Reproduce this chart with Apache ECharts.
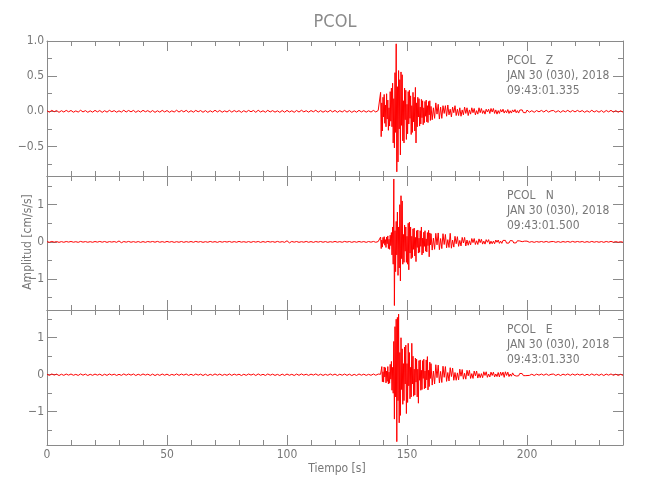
<!DOCTYPE html>
<html>
<head>
<meta charset="utf-8">
<script src="https://cdn.jsdelivr.net/npm/echarts/dist/echarts.min.js"></script>
<style>html,body{margin:0;padding:0;background:#fff}#chart{width:650px;height:500px}</style>
</head>
<body>
<div id="chart"></div>
<script>
// ---------------- DATA ----------------
const stationName = 'PCOL';
const componentNames = ['Z', 'N', 'E'];
const dateText = 'JAN 30 (030), 2018';
const startTimes = ['09:43:01.335', '09:43:01.500', '09:43:01.330'];
const xTitle = 'Tiempo [s]';
const yTitle = 'Amplitud [cm/s/s]';

// sample segments: start time [s] and step [s]
const segStart = [0, 138.5, 160.5, 201];
const segStep = [1, 0.25, 0.5, 1];

// x tick values
const xMajorTicks = [0, 50, 100, 150, 200];
const xMinorTicks = [10, 20, 30, 40, 60, 70, 80, 90, 110, 120, 130, 140, 160, 170, 180, 190, 210, 220, 230];

// y ranges and ticks per panel
const yRanges = [[-0.92, 1.0], [-1.83, 1.77], [-1.9, 1.75]];
const yMajorTicks = [[-0.5, 0, 0.5, 1.0], [-1, 0, 1], [-1, 0, 1]];
const yMinorTicks = [[-0.75, -0.25, 0.25, 0.75], [-1.5, -0.5, 0.5, 1.5], [-1.5, -0.5, 0.5, 1.5]];

// ---- Z component ----
const zNoise = [
  0.008,-0.012,0.014,-0.006,0.011,-0.015,0.009,-0.010,0.013,-0.007,
  0.012,-0.013,0.006,-0.011,0.015,-0.009,0.010,-0.014,0.007,-0.012,
  0.013,-0.008,0.011,-0.015,0.009,-0.012,0.014,-0.006,0.010,-0.013,
  0.007,-0.011,0.015,-0.010,0.012,-0.008,0.013,-0.014,0.009,-0.011,
  0.014,-0.007,0.010,-0.013,0.011,-0.015,0.008,-0.012,0.013,-0.009,
  0.011,-0.014,0.007,-0.010,0.015,-0.011,0.012,-0.008,0.014,-0.013,
  0.009,-0.012,0.013,-0.007,0.011,-0.014,0.010,-0.015,0.008,-0.011,
  0.015,-0.009,0.012,-0.013,0.007,-0.010,0.014,-0.012,0.011,-0.008,
  0.010,-0.015,0.009,-0.011,0.013,-0.007,0.012,-0.014,0.015,-0.010,
  0.008,-0.013,0.014,-0.009,0.010,-0.012,0.007,-0.015,0.011,-0.013,
  0.013,-0.010,0.008,-0.014,0.012,-0.011,0.015,-0.008,0.009,-0.012,
  0.011,-0.007,0.015,-0.012,0.010,-0.013,0.008,-0.011,0.014,-0.009,
  0.012,-0.014,0.009,-0.010,0.013,-0.012,0.011,-0.015,0.007,-0.013,
  0.014,-0.009,0.010,-0.012,0.008,-0.011,0.013,-0.010,0.012
];
const zActive = [
  0.010,-0.012,0.27,-0.36,0.12,-0.28,0.20,-0.08,0.24,-0.17,
  0.09,-0.22,0.25,-0.11,0.16,-0.27,0.05,-0.21,0.28,-0.14,
  0.33,-0.22,0.40,-0.45,0.18,-0.52,0.55,-0.30,0.96,-0.86,
  0.35,-0.72,0.58,-0.25,0.45,-0.62,0.56,-0.20,0.52,-0.42,
  0.15,-0.45,0.33,-0.12,0.30,-0.40,0.10,-0.32,0.28,-0.18,
  0.30,-0.10,0.22,-0.33,0.08,-0.30,0.27,-0.15,0.20,-0.28,
  0.34,-0.45,0.12,-0.22,0.20,-0.08,0.18,-0.21,0.06,-0.18,
  0.17,-0.09,0.15,-0.19,0.05,-0.16,0.14,-0.07,0.16,-0.15,
  0.08,-0.16,0.14,-0.05,0.15,-0.13,0.07
];
const zDecay = [
  -0.12,0.05,-0.10,0.12,-0.04,0.10,-0.11,0.06,-0.10,0.08,
  -0.03,0.08,-0.07,0.09,-0.05,0.03,-0.08,0.06,-0.02,0.08,
  -0.06,0.03,-0.06,0.05,-0.07,0.02,-0.05,0.06,-0.03,0.05,
  -0.06,0.02,-0.04,0.05,-0.02,0.04,-0.05,0.01,-0.04,0.05,
  -0.02,0.04,-0.03,0.01,-0.04,0.03,-0.01,0.03,-0.03,0.04,
  -0.01,0.04,-0.03,0.02,-0.04,0.01,-0.03,0.025,-0.01,0.03,
  -0.025,0.01,-0.02,0.025,-0.03,0.008,-0.025,0.02,-0.01,0.025,
  -0.02,0.01,-0.025,0.018,-0.006,0.02,-0.018,0.008,-0.02,0.018
];
const zTail = [
  -0.012,0.009,-0.014,0.011,-0.008,0.013,-0.010,0.015,-0.011,0.007,
  0.012,-0.013,0.009,-0.015,0.010,-0.008,0.014,-0.011,0.012,-0.009,
  0.013,-0.007,0.011,-0.014,0.008,-0.012,0.015,-0.010,0.009,-0.013,
  0.011,-0.015,0.012,-0.008,0.014,-0.011,0.010,-0.013,0.007,-0.012
];

// ---- N component ----
const nNoise = [
  0.006,-0.010,0.012,-0.008,0.009,-0.013,0.007,-0.011,0.010,-0.006,
  0.011,-0.009,0.005,-0.012,0.013,-0.007,0.008,-0.010,0.006,-0.011,
  0.010,-0.007,0.012,-0.009,0.011,-0.013,0.008,-0.006,0.009,-0.012,
  0.025,-0.022,0.010,-0.008,0.012,-0.010,0.007,-0.011,0.009,-0.013,
  0.008,-0.012,0.010,-0.006,0.011,-0.009,0.013,-0.010,0.007,-0.011,
  0.012,-0.008,0.009,-0.013,0.006,-0.010,0.011,-0.012,0.008,-0.009,
  0.010,-0.011,0.013,-0.007,0.009,-0.012,0.006,-0.010,0.012,-0.008,
  0.007,-0.013,0.011,-0.009,0.010,-0.006,0.012,-0.011,0.008,-0.010,
  0.013,-0.008,0.006,-0.011,0.009,-0.012,0.010,-0.007,0.011,-0.013,
  0.009,-0.010,0.012,-0.006,0.008,-0.011,0.013,-0.009,0.007,-0.012,
  0.030,-0.026,0.011,-0.008,0.010,-0.012,0.006,-0.009,0.012,-0.011,
  0.008,-0.013,0.010,-0.007,0.011,-0.010,0.009,-0.012,0.006,-0.008,
  0.012,-0.009,0.007,-0.011,0.013,-0.006,0.010,-0.012,0.008,-0.010,
  0.011,-0.007,0.009,-0.013,0.010,-0.008,0.012,-0.011,0.009
];
const nActive = [
  0.010,-0.012,0.13,-0.18,0.05,-0.14,0.12,-0.04,0.14,-0.09,
  0.06,-0.15,0.13,-0.05,0.16,-0.18,0.07,-0.20,0.18,-0.10,
  0.25,-0.35,0.40,-0.60,1.69,-1.71,0.30,-0.80,0.55,-0.35,
  0.80,-0.90,0.40,-0.70,1.00,-1.05,1.24,-0.45,1.10,-0.60,
  0.20,-0.55,0.45,-0.25,0.40,-0.55,0.15,-0.60,0.50,-0.75,
  0.53,-0.30,0.40,-0.45,0.15,-0.42,0.35,-0.20,0.37,-0.38,
  0.12,-0.53,0.30,-0.15,0.32,-0.30,0.10,-0.28,0.30,-0.12,
  0.40,-0.35,0.10,-0.30,0.26,-0.12,0.30,-0.25,0.08,-0.27,
  0.25,-0.10,0.31,-0.40,0.24,-0.08,0.22
];
const nDecay = [
  -0.22,0.10,-0.20,0.23,-0.08,0.24,-0.21,0.09,-0.18,0.22,
  -0.07,0.20,-0.16,0.06,-0.15,0.23,-0.17,0.05,-0.14,0.15,
  -0.05,0.14,-0.12,0.04,-0.11,0.12,-0.03,0.12,-0.11,0.05,
  -0.09,0.03,-0.08,0.09,-0.02,0.09,-0.07,0.03,-0.07,0.08,
  -0.02,0.07,-0.06,0.02,-0.06,0.06,-0.01,0.06,-0.06,0.02,
  -0.05,0.02,-0.05,0.05,-0.01,0.05,-0.04,0.02,-0.04,0.04,
  -0.01,0.04,-0.035,0.01,-0.03,0.035,-0.01,0.03,-0.03,0.01,
  -0.025,0.03,-0.008,0.025,-0.02,0.005,-0.02,0.02,-0.005,0.02
];
const nTail = [
  -0.010,0.008,-0.012,0.009,-0.007,0.011,-0.009,0.012,-0.010,0.006,
  0.010,-0.011,0.008,-0.012,0.009,-0.007,0.011,-0.010,0.013,-0.008,
  0.011,-0.006,0.010,-0.012,0.007,-0.011,0.012,-0.009,0.008,-0.010,
  0.009,-0.012,0.011,-0.007,0.013,-0.010,0.008,-0.011,0.006,-0.010
];

// ---- E component ----
const eNoise = [
  0.012,-0.018,0.021,-0.010,0.016,-0.022,0.014,-0.017,0.019,-0.011,
  0.020,-0.015,0.010,-0.019,0.022,-0.013,0.017,-0.021,0.012,-0.016,
  0.018,-0.012,0.016,-0.022,0.014,-0.018,0.021,-0.010,0.015,-0.019,
  0.011,-0.017,0.022,-0.014,0.019,-0.012,0.020,-0.021,0.013,-0.016,
  0.021,-0.011,0.015,-0.020,0.017,-0.022,0.012,-0.018,0.019,-0.014,
  0.016,-0.021,0.010,-0.015,0.022,-0.017,0.018,-0.012,0.020,-0.019,
  0.014,-0.018,0.020,-0.011,0.016,-0.021,0.015,-0.022,0.012,-0.017,
  0.022,-0.013,0.018,-0.019,0.011,-0.016,0.021,-0.018,0.017,-0.012,
  0.015,-0.022,0.013,-0.017,0.020,-0.010,0.018,-0.021,0.022,-0.015,
  0.012,-0.020,0.021,-0.013,0.015,-0.018,0.010,-0.022,0.016,-0.019,
  0.019,-0.015,0.012,-0.021,0.018,-0.016,0.022,-0.012,0.014,-0.018,
  0.017,-0.010,0.022,-0.018,0.015,-0.019,0.012,-0.016,0.021,-0.013,
  0.018,-0.021,0.014,-0.015,0.019,-0.018,0.016,-0.022,0.011,-0.020,
  0.021,-0.013,0.015,-0.018,0.012,-0.016,0.020,-0.015,0.018
];
const eActive = [
  0.015,-0.018,0.012,-0.020,0.22,-0.19,0.08,-0.20,0.21,-0.06,
  0.19,-0.22,0.10,-0.18,0.22,-0.25,0.07,-0.23,0.28,-0.12,
  0.36,-0.42,0.20,-0.50,0.90,-1.20,1.30,-0.60,1.50,-1.81,
  1.55,-0.70,1.64,-1.30,0.60,-1.10,1.00,-0.40,0.70,-0.80,
  0.30,-0.70,0.75,-0.25,0.80,-1.05,0.30,-0.75,0.85,-0.30,
  0.60,-0.65,0.20,-0.60,0.85,-0.25,0.50,-0.58,0.15,-0.55,
  0.45,-0.20,0.42,-0.60,0.15,-0.77,0.38,-0.15,0.40,-0.42,
  0.12,-0.40,0.38,-0.10,0.42,-0.38,0.10,-0.36,0.40,-0.14,
  0.49,-0.41,0.12,-0.32,0.34,-0.10,0.30
];
const eDecay = [
  -0.28,0.10,-0.25,0.27,-0.08,0.26,-0.22,0.09,-0.21,0.23,
  -0.07,0.22,-0.18,0.06,-0.17,0.19,-0.05,0.18,-0.15,0.06,
  -0.15,0.05,-0.14,0.15,-0.04,0.14,-0.12,0.04,-0.12,0.12,
  -0.03,0.12,-0.10,0.03,-0.10,0.10,-0.03,0.10,-0.09,0.03,
  -0.08,0.03,-0.08,0.08,-0.02,0.08,-0.07,0.02,-0.06,0.07,
  -0.02,0.07,-0.06,0.02,-0.05,0.06,-0.06,0.07,-0.02,0.07,
  -0.07,0.08,-0.02,0.07,-0.05,0.02,-0.04,0.05,-0.01,0.04,
  -0.035,0.01,-0.03,0.035,-0.01,0.03,-0.025,0.008,-0.025,0.025
];
const eTail = [
  -0.018,0.014,-0.021,0.016,-0.012,0.019,-0.015,0.022,-0.017,0.011,
  0.018,-0.020,0.013,-0.022,0.016,-0.012,0.021,-0.017,0.019,-0.014,
  0.020,-0.011,0.016,-0.021,0.013,-0.018,0.022,-0.015,0.014,-0.019,
  0.017,-0.022,0.018,-0.012,0.021,-0.016,0.015,-0.020,0.011,-0.018
];

// ---------------- BUILD ----------------
function toPoints(segs) {
  const pts = [];
  segs.forEach((vals, k) => vals.forEach((v, i) => pts.push([segStart[k] + i * segStep[k], v])));
  return pts;
}
const traces = [
  toPoints([zNoise, zActive, zDecay, zTail]),
  toPoints([nNoise, nActive, nDecay, nTail]),
  toPoints([eNoise, eActive, eDecay, eTail])
];

const FONT = '"Liberation Sans Narrow", "DejaVu Sans Condensed", sans-serif';
const AXIS_COLOR = '#8a8a8a';
const TEXT_COLOR = '#777';
const panelTops = [41, 176, 310];
const panelHeights = [135, 134, 135];
const gridLeft = 47, gridWidth = 576;

const grids = [], xAxes = [], yAxes = [], series = [], graphics = [];

function fmtY(p) {
  return function (v) {
    const s = p === 0 ? Math.abs(v).toFixed(1) : String(Math.abs(v));
    return (v < 0 ? '\u2212' : '') + s;
  };
}

for (let p = 0; p < 3; p++) {
  grids.push({ left: gridLeft, top: panelTops[p], width: gridWidth, height: panelHeights[p], containLabel: false });
  const xs = [
    { pos: 'bottom', major: true }, { pos: 'bottom', major: false },
    { pos: 'top', major: true }, { pos: 'top', major: false }
  ];
  xs.forEach(a => {
    xAxes.push({
      type: 'value', gridIndex: p, position: a.pos, min: 0, max: 240,
      axisLine: { show: a.major, onZero: false, lineStyle: { color: AXIS_COLOR, width: 1 } },
      axisTick: { show: true, inside: true, length: a.major ? 10 : 5, customValues: a.major ? xMajorTicks : xMinorTicks, lineStyle: { color: AXIS_COLOR, width: 1 } },
      axisLabel: { show: a.major && a.pos === 'bottom' && p === 2, customValues: xMajorTicks, color: TEXT_COLOR, fontFamily: FONT, fontSize: 12, margin: 4 },
      splitLine: { show: false }
    });
  });
  const ys = [
    { pos: 'left', major: true }, { pos: 'left', major: false },
    { pos: 'right', major: true }, { pos: 'right', major: false }
  ];
  ys.forEach(a => {
    yAxes.push({
      type: 'value', gridIndex: p, position: a.pos, min: yRanges[p][0], max: yRanges[p][1],
      axisLine: { show: a.major, onZero: false, lineStyle: { color: AXIS_COLOR, width: 1 } },
      axisTick: { show: true, inside: true, length: a.major ? 10 : 5, customValues: a.major ? yMajorTicks[p] : yMinorTicks[p], lineStyle: { color: AXIS_COLOR, width: 1 } },
      axisLabel: { show: a.major && a.pos === 'left', customValues: yMajorTicks[p], formatter: fmtY(p), color: TEXT_COLOR, fontFamily: FONT, fontSize: 12, margin: 3 },
      splitLine: { show: false }
    });
  });
  series.push({
    type: 'line', xAxisIndex: 4 * p, yAxisIndex: 4 * p, data: traces[p],
    showSymbol: false, symbol: 'none', sampling: null, smooth: false,
    lineStyle: { color: '#ff0000', width: 1 }, emphasis: { disabled: true }, silent: true, clip: true
  });
  const lines = [stationName + '   ' + componentNames[p], dateText, startTimes[p]];
  const offs = [20, 35, 49.5];
  lines.forEach((t, i) => {
    graphics.push({ type: 'text', x: 507, y: panelTops[p] + offs[i], silent: true,
      style: { text: t, fill: TEXT_COLOR, fontFamily: FONT, fontSize: 12, align: 'left', verticalAlign: 'middle' } });
  });
}

graphics.push({ type: 'text', x: 335, y: 22, silent: true,
  style: { text: stationName, fill: '#8a8a8a', fontFamily: FONT, fontSize: 18, align: 'center', verticalAlign: 'middle' } });
graphics.push({ type: 'text', x: 337, y: 469, silent: true,
  style: { text: xTitle, fill: TEXT_COLOR, fontFamily: FONT, fontSize: 12, align: 'center', verticalAlign: 'middle' } });
graphics.push({ type: 'text', x: 28, y: 242, rotation: Math.PI / 2, silent: true,
  style: { text: yTitle, fill: TEXT_COLOR, fontFamily: FONT, fontSize: 12, align: 'center', verticalAlign: 'middle' } });

const chart = echarts.init(document.getElementById('chart'), null, { renderer: 'canvas' });
chart.setOption({
  animation: false,
  backgroundColor: '#ffffff',
  grid: grids,
  xAxis: xAxes,
  yAxis: yAxes,
  series: series,
  graphic: graphics
});
</script>
</body>
</html>
